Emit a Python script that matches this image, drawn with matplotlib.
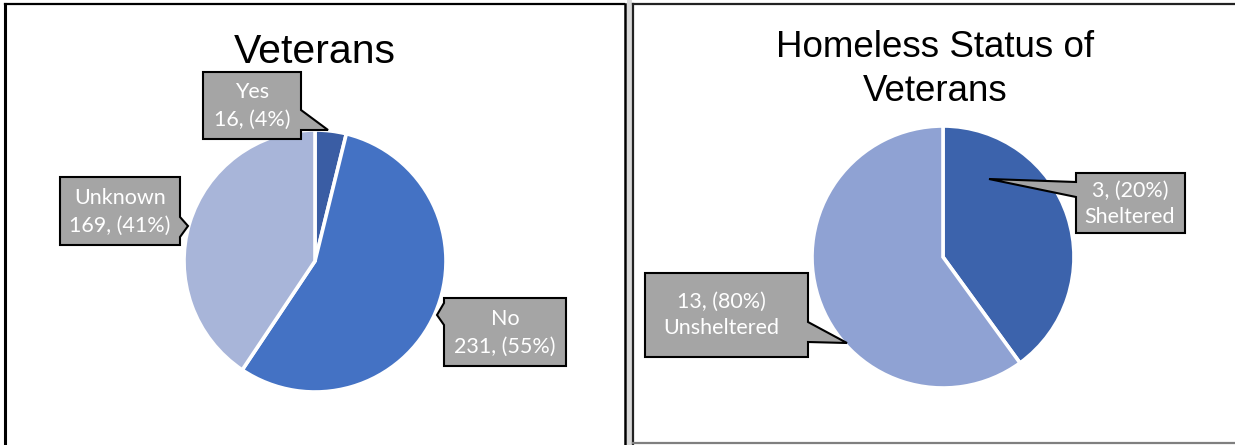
import matplotlib
matplotlib.use("Agg")
import matplotlib.pyplot as plt
from matplotlib.patches import Polygon, Rectangle

# ---------------- data ----------------
vet_title = "Veterans"
vet_categories = ["Yes", "No", "Unknown"]
vet_counts = [16, 231, 169]
vet_pct_labels = ["4%", "55%", "41%"]

homeless_title = "Homeless Status of\nVeterans"
homeless_categories = ["Sheltered", "Unsheltered"]
homeless_counts = [3, 13]
homeless_pct_labels = ["20%", "80%"]
homeless_slice_share = [40, 60]   # slice sizes as drawn in the original chart

# ---------------- layout / style ----------------
W, H = 1235, 445
vet_colors = ["#3A5DA4", "#4472C4", "#A8B5D9"]
homeless_colors = ["#3C63AC", "#8FA2D3"]
box_face = "#A5A5A5"
label_font = "Lato"
title_font = "Liberation Sans"

fig = plt.figure(figsize=(W / 100, H / 100), dpi=100)
fig.patch.set_facecolor("white")

# background axes in pixel coordinates (borders)
bg = fig.add_axes([0, 0, 1, 1])
bg.set_xlim(0, W)
bg.set_ylim(H, 0)
bg.axis("off")
bg.add_patch(Rectangle((626.5, 0), 5, H, facecolor="#D9D9D9", edgecolor="none"))
bg.plot([5, 5], [3.5, H], color="black", lw=2.2)
bg.plot([5, 624], [3.5, 3.5], color="black", lw=1.6)
bg.plot([624.5, 624.5], [3.5, H], color="black", lw=1.8)
bg.plot([632.5, 632.5], [3.5, H], color="#222222", lw=1.6)
bg.plot([632.5, W], [3.5, 3.5], color="#222222", lw=1.6)
bg.plot([632.5, W], [443, 443], color="#7F7F7F", lw=1.6)


def pie_axes(cx, cy, r):
    ax = fig.add_axes([(cx - r) / W, 1 - (cy + r) / H, 2 * r / W, 2 * r / H])
    ax.set_xlim(-1, 1)
    ax.set_ylim(-1, 1)
    ax.set_aspect("equal")
    ax.axis("off")
    return ax


ax1 = pie_axes(315, 261, 131)
ax1.pie(vet_counts, colors=vet_colors, startangle=90, counterclock=False,
        radius=1.0, wedgeprops=dict(edgecolor="white", linewidth=2.6))
ax1.set_xlim(-1, 1)
ax1.set_ylim(-1, 1)

ax2 = pie_axes(943, 257, 131)
ax2.pie(homeless_slice_share, colors=homeless_colors, startangle=90, counterclock=False,
        radius=1.0, wedgeprops=dict(edgecolor="white", linewidth=2.6))
ax2.set_xlim(-1, 1)
ax2.set_ylim(-1, 1)

# overlay axes for titles and callouts
ov = fig.add_axes([0, 0, 1, 1])
ov.set_xlim(0, W)
ov.set_ylim(H, 0)
ov.axis("off")
ov.patch.set_alpha(0)

ov.text(315, 63, vet_title, ha="center", va="baseline", fontsize=29.5,
        family=title_font, color="black")
t_lines = homeless_title.split("\n")
ov.text(935, 57, t_lines[0], ha="center", va="baseline", fontsize=26.5,
        family=title_font, color="black")
ov.text(935, 101, t_lines[1], ha="center", va="baseline", fontsize=26.5,
        family=title_font, color="black")


def callout(box, side, base, tip):
    x0, y0, x1, y1 = box
    b0, b1 = base
    if side == "right":
        pts = [(x0, y0), (x1, y0), (x1, b0), tip, (x1, b1), (x1, y1), (x0, y1)]
    else:
        pts = [(x0, y0), (x1, y0), (x1, y1), (x0, y1), (x0, b1), tip, (x0, b0)]
    ov.add_patch(Polygon(pts, closed=True, facecolor=box_face, edgecolor="black",
                         lw=1.5, joinstyle="miter"))


# left chart callouts: (box, side, base, tip, text centre x, line ys)
vet_callouts = [
    ((203, 72, 301, 139), "right", (110, 130), (328, 130), 252, (92, 120)),
    ((444, 298, 566, 366), "left", (303, 325), (437, 315), 505, (319, 347)),
    ((60, 177, 180, 245), "right", (217, 237), (188, 226), 120, (198, 226)),
]
for (box, side, base, tip, tx, ys), cat, cnt, pct in zip(
        vet_callouts, vet_categories, vet_counts, vet_pct_labels):
    callout(box, side, base, tip)
    ov.text(tx, ys[0], cat, ha="center", va="center", fontsize=15.5,
            family=label_font, color="white")
    ov.text(tx, ys[1], f"{cnt}, ({pct})", ha="center", va="center", fontsize=15.5,
            family=label_font, color="white")

homeless_callouts = [
    ((1076, 173, 1185, 233), "left", (182, 197), (989, 179), 1130, (191, 217)),
    ((645, 273, 808, 357), "right", (322, 342), (847, 343), 721, (302, 328)),
]
for (box, side, base, tip, tx, ys), cat, cnt, pct in zip(
        homeless_callouts, homeless_categories, homeless_counts, homeless_pct_labels):
    callout(box, side, base, tip)
    ov.text(tx, ys[0], f"{cnt}, ({pct})", ha="center", va="center", fontsize=15.5,
            family=label_font, color="white")
    ov.text(tx, ys[1], cat, ha="center", va="center", fontsize=15.5,
            family=label_font, color="white")

fig.savefig("out.png", dpi=100, facecolor="white")
